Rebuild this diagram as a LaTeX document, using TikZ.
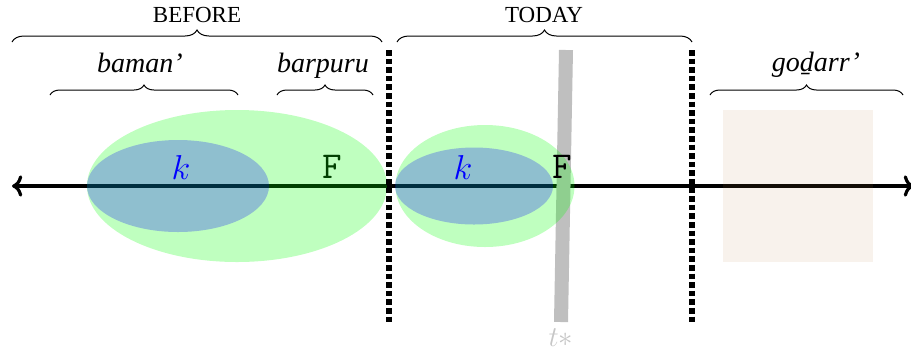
\documentclass[tikz,border=0pt]{standalone}
\usepackage{fontspec}
\setmainfont{Liberation Serif}
\usetikzlibrary{shapes.geometric,positioning,decorations.pathreplacing,arrows.meta}

\begin{document}
\begin{tikzpicture}[
  x=0.5pt, y=-0.5pt,
  fzone/.style={ellipse, inner sep=0pt, fill=green, fill opacity=0.25},
  kzone/.style={ellipse, inner sep=0pt, fill=blue, fill opacity=0.25},
  divider/.style={line width=2.8pt, dash pattern=on 2.8pt off 1.5pt},
  timeline/.style={<->, line width=1.6pt},
  span/.style={decorate, decoration={brace, amplitude=#1}, line width=0.5pt},
  span/.default=6pt,
  period/.style={font=\fontsize{11.5}{13}\selectfont, anchor=base},
  lex/.style={font=\fontsize{14}{17}\selectfont\itshape, anchor=base},
  sym/.style={font=\fontsize{19}{22}\selectfont},
]
\useasboundingbox (0,0) rectangle (911,350);

% === Timeline ===
\coordinate (past) at (12,186);
\coordinate (future) at (914,186);
\draw[timeline] (past) -- (future);

% === Period boundaries ===
\coordinate (b1top) at (389,50);
\coordinate (b1bot) at (389,322);
\coordinate (b2top) at (692,50);
\coordinate (b2bot) at (692,322);

% === Present moment ===
\coordinate (nowtop) at (566,50);
\coordinate (nowbot) at (561,322);
\draw[line width=7pt, gray!50] (nowtop) -- (nowbot);
\node[font=\fontsize{14}{16}\selectfont, text=gray!45, inner sep=1pt, below=2pt of nowbot] (tstar) {$t*$};

% === Zones ===
\node[sym] (f1) at (332,167) {\texttt{F}};
\node[fzone, minimum width=150pt, minimum height=76pt] (fbefore) at (237,186) {};
\node[kzone, minimum width=91pt, minimum height=46pt] (kbefore) at (178,186) {};
\node[fzone, minimum width=89.5pt, minimum height=61pt] (ftoday) at (485,186) {};
\node[kzone, minimum width=79pt, minimum height=38.5pt] (ktoday) at (474,186) {};
\node[sym, text=blue] (k1) at (181,167) {$k$};
\node[sym, text=blue] (k2) at (463,167) {$k$};
\node[sym] (f2) at (562,167) {\texttt{F}};
\node[fill=brown, fill opacity=0.1, inner sep=0pt, minimum width=75pt, minimum height=76pt] (later) at (798,186) {};

\draw[divider] (b1top) -- (b1bot);
\draw[divider] (b2top) -- (b2bot);

% === Braces and labels ===
\coordinate (beforeL) at (12,42);
\coordinate (beforeR) at (382,42);
\coordinate (todayL) at (397,42);
\coordinate (todayR) at (692,42);
\coordinate (bamanL) at (50,95);
\coordinate (bamanR) at (238,95);
\coordinate (barpuruL) at (277,95);
\coordinate (barpuruR) at (373,95);
\coordinate (godarrL) at (710,95);
\coordinate (godarrR) at (903,95);

\draw[span] (beforeL) -- (beforeR);
\draw[span] (todayL) -- (todayR);
\draw[span=5pt] (bamanL) -- (bamanR);
\draw[span=5pt] (barpuruL) -- (barpuruR);
\draw[span=5pt] (godarrL) -- (godarrR);

\node[period] (before) at (197,22) {BEFORE};
\node[period] (today) at (544,22) {TODAY};
\node[lex] (baman) at (140,72) {baman'};
\node[lex] (barpuru) at (323,72) {barpuru};
\node[lex] (godarr) at (816,71) {goḏarr'};

\end{tikzpicture}
\end{document}
